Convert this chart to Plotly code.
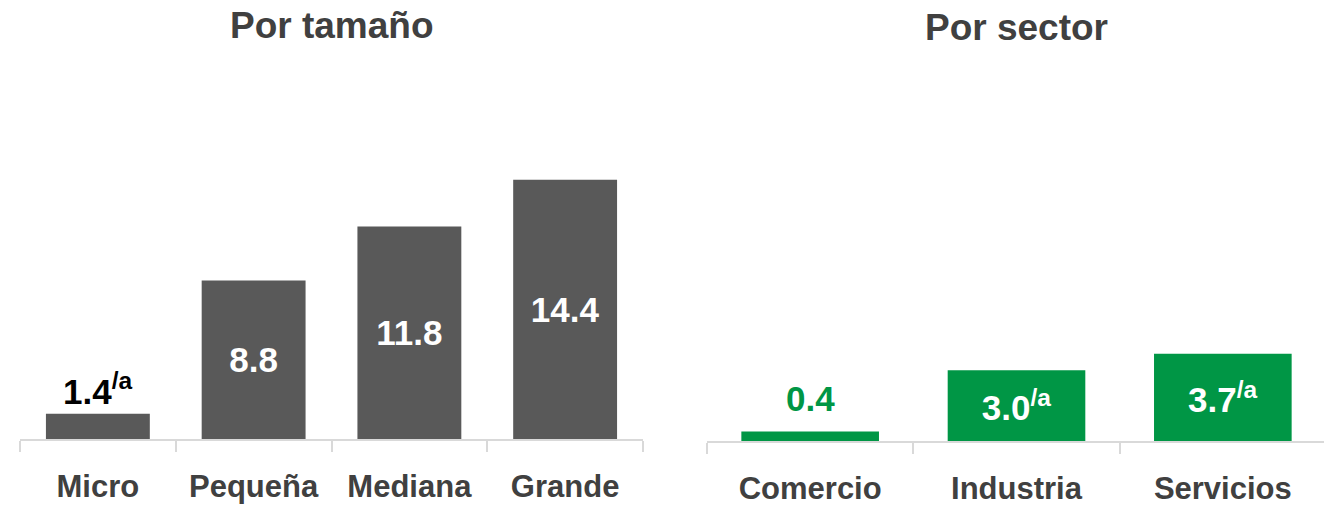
import plotly.graph_objects as go

# Data
size_categories = ["Micro", "Pequeña", "Mediana", "Grande"]
size_values = [1.4, 8.8, 11.8, 14.4]
size_notes = ["/a", "", "", ""]

sector_categories = ["Comercio", "Industria", "Servicios"]
sector_values = [0.4, 3.0, 3.7]
sector_notes = ["", "/a", "/a"]

titles = ["Por tamaño", "Por sector"]

GRAY = "#595959"
GREEN = "#009645"
TEXT = "#404040"
AXIS = "#D9D9D9"
FONT = "Liberation Sans, Arial, sans-serif"


def label(v, n):
    return f"{v:.1f}" + (f"<sup>{n}</sup>" if n else "")


def is_outside(v, threshold):
    return v < threshold


W, H = 1332, 505
OFF = 8  # page body margin offset
plot_h = 441 - OFF

fig = go.Figure()
annotations = []

panels = [
    (size_categories, size_values, size_notes, GRAY, "#000000", 3, "x", "y", 1),
    (sector_categories, sector_values, sector_notes, GREEN, GREEN, 1, "x2", "y2", 12),
]

for cats, vals, notes, color, out_color, thr, xa, ya, shift in panels:
    inside_text = ["" if is_outside(v, thr) else label(v, n) for v, n in zip(vals, notes)]
    fig.add_trace(go.Bar(
        x=cats, y=vals,
        marker=dict(color=color, line=dict(width=0)),
        text=inside_text,
        textposition="inside",
        insidetextanchor="middle",
        constraintext="none",
        textangle=0,
        textfont=dict(family=FONT, size=35, color="#FFFFFF", weight="bold"),
        xaxis=xa, yaxis=ya,
        hoverinfo="skip",
    ))
    for c, v, n in zip(cats, vals, notes):
        if is_outside(v, thr):
            annotations.append(dict(
                text=f"<b>{label(v, n)}</b>", xref=xa, yref=ya, x=c, y=v,
                xanchor="center", yanchor="bottom", yshift=shift, showarrow=False,
                font=dict(family=FONT, size=35, color=out_color),
            ))

common_x = dict(
    type="category",
    showline=True, linecolor=AXIS, linewidth=2,
    ticks="outside", tickson="boundaries", ticklen=11, tickcolor=AXIS, tickwidth=2,
    showgrid=False, zeroline=False,
    tickangle=0, automargin=False,
    ticklabelstandoff=19,
    tickfont=dict(family=FONT, size=31, color=TEXT, weight="bold"),
    fixedrange=True,
)
common_y = dict(visible=False, showgrid=False, zeroline=False, fixedrange=True)

annotations += [
    dict(text=f"<b>{titles[0]}</b>", xref="paper", yref="paper",
         x=((20 + 643) / 2 - OFF) / W, y=1 - (25 - OFF) / plot_h,
         xanchor="center", yanchor="middle",
         showarrow=False, font=dict(family=FONT, size=37, color=TEXT)),
    dict(text=f"<b>{titles[1]}</b>", xref="paper", yref="paper",
         x=((707 + 1326) / 2 - OFF) / W, y=1 - (27 - OFF) / plot_h,
         xanchor="center", yanchor="middle",
         showarrow=False, font=dict(family=FONT, size=37, color=TEXT)),
]

fig.update_layout(
    width=W, height=H,
    margin=dict(l=0, r=0, t=0, b=H - plot_h),
    paper_bgcolor="white", plot_bgcolor="white",
    showlegend=False,
    bargap=0.333,
    xaxis=dict(domain=[(20 - OFF) / W, (643 - OFF) / W], anchor="y", **common_x),
    yaxis=dict(domain=[2 / plot_h, 1], range=[0, (plot_h - 2) / 18.0], **common_y),
    xaxis2=dict(domain=[(707 - OFF) / W, (1326 - OFF) / W], anchor="y2", **common_x),
    yaxis2=dict(domain=[0, 1], range=[0, plot_h / 23.6], **common_y),
    annotations=annotations,
)

fig.write_html("out.html")
